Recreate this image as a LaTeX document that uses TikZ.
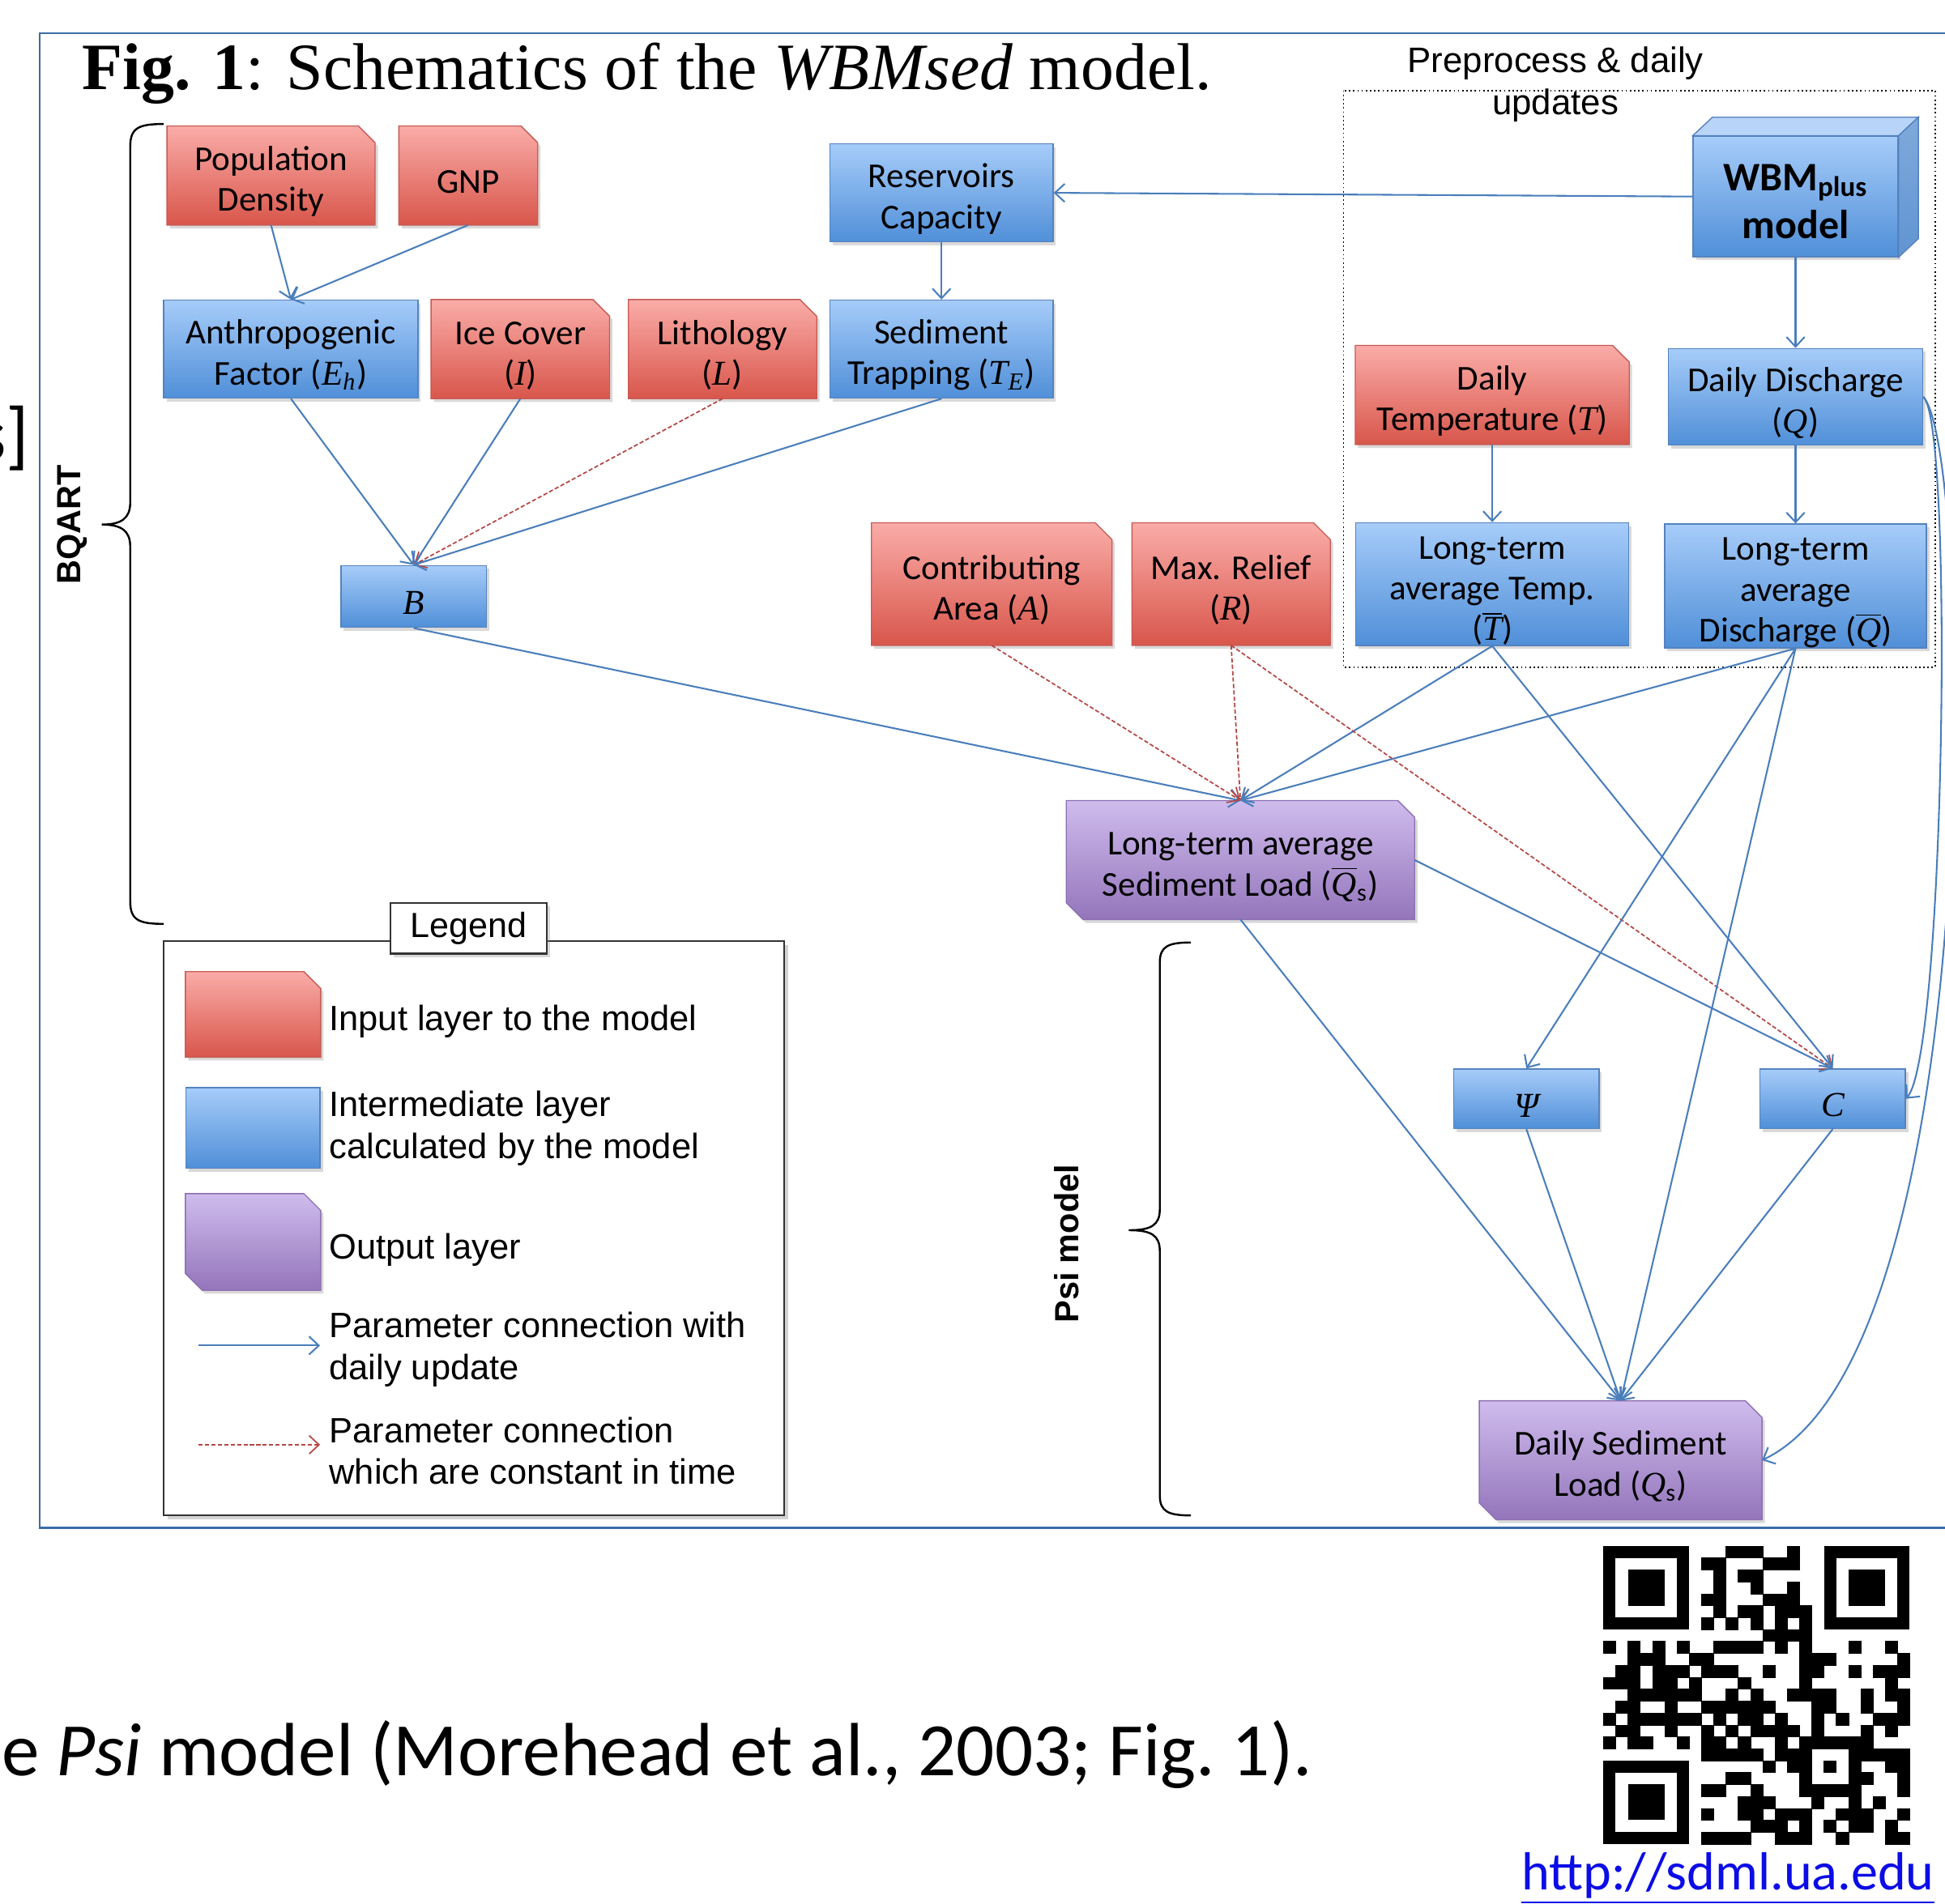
\documentclass[tikz,border=0pt]{standalone}
\usepackage{fontspec}
\setmainfont{Carlito}
\newfontfamily\arialf{Liberation Sans}
\newfontfamily\tnr{Liberation Serif}
\usetikzlibrary{arrows.meta,shadows,backgrounds}

\definecolor{redtop}{RGB}{250,172,168}
\definecolor{redbot}{RGB}{216,86,75}
\definecolor{rededge}{RGB}{200,90,84}
\definecolor{bluetop}{RGB}{166,204,249}
\definecolor{bluebot}{RGB}{80,143,216}
\definecolor{blueedge}{RGB}{84,130,190}
\definecolor{cubetop}{RGB}{184,213,249}
\definecolor{cubeside}{RGB}{96,148,210}
\definecolor{purptop}{RGB}{207,188,237}
\definecolor{purpbot}{RGB}{148,117,187}
\definecolor{purpedge}{RGB}{140,112,176}
\definecolor{linkblue}{RGB}{74,126,187}
\definecolor{linkred}{RGB}{180,70,66}
\definecolor{framecol}{RGB}{60,108,168}
\definecolor{urlblue}{RGB}{12,12,230}

\newcommand{\mv}[1]{{\tnr\itshape #1}}
\newcommand{\mbar}[1]{$\overline{\hbox{\mv{#1}}}$}
\newcommand{\fl}{\rule{0pt}{13pt}}

\tikzset{
  boxtext/.style={align=center, inner sep=0pt, font=\fontsize{12.5}{14.6}\selectfont},
  boxshadow/.style={drop shadow={shadow xshift=1pt, shadow yshift=-1.2pt, opacity=0.3}},
  inbox/.style={boxtext},
  outbox/.style={boxtext},
  calcbox/.style={boxtext, draw=blueedge, line width=0.4pt, top color=bluetop, bottom color=bluebot, boxshadow},
  redfill/.style={draw=rededge, line width=0.4pt, top color=redtop, bottom color=redbot, boxshadow},
  purplefill/.style={draw=purpedge, line width=0.4pt, top color=purptop, bottom color=purpbot, boxshadow},
  dailylink/.style={draw=linkblue, line width=0.6pt, -{Straight Barb[length=3.5pt,width=6.5pt]}},
  fixedlink/.style={draw=linkred, line width=0.5pt, dash pattern=on 1.5pt off 0.8pt, -{Straight Barb[length=3.5pt,width=6.5pt]}},
  bracket/.style={draw=black, line width=0.7pt},
  legendtext/.style={anchor=west, align=left, inner sep=0pt, font=\arialf\fontsize{12.6}{15}\selectfont},
  sidelabel/.style={rotate=90, font=\arialf\bfseries\fontsize{12}{14}\selectfont},
}

\begin{document}
\begin{tikzpicture}[x=0.444pt, y=-0.444pt]
  \path[use as bounding box, clip] (0,0) rectangle (1568,1535);

  % outer frame and title
  \draw[framecol, line width=0.6pt] (1600,27) -- (32,27) -- (32,1232) -- (1600,1232);
  \node[anchor=base west, inner sep=0pt, font=\tnr\fontsize{23.7}{28}\selectfont] (title) at (66,72)
    {\textbf{Fig. 1}: Schematics of the \textit{WBMsed} model.};
  \node[anchor=base east, inner sep=0pt, font=\fontsize{27}{30}\selectfont] (cut) at (24,371) {s]};

  % preprocess group
  \draw[densely dotted, line width=0.5pt] (1083,73) rectangle (1560,538);
  \node[font=\arialf\fontsize{12.7}{15}\selectfont, align=center] (pre) at (1254,68) {Preprocess \& daily\\updates};

  % input layer
  \node[inbox, minimum width=74.1pt, minimum height=35.1pt] (pop) at (218.5,141.5) {\fl Population\\Density};
  \node[inbox, minimum width=49.3pt, minimum height=35.1pt] (gnp) at (377.5,141.5) {\fl GNP};
  \node[inbox, minimum width=63.5pt, minimum height=35.1pt] (ice) at (419.5,281.5) {\fl Ice Cover\\(\mv{I})};
  \node[inbox, minimum width=67pt, minimum height=35.1pt] (lith) at (582.5,281.5) {\fl Lithology\\(\mv{L})};
  \node[inbox, minimum width=97.7pt, minimum height=35.1pt] (dtemp) at (1203,318.5) {\fl Daily\\Temperature (\mv{T})};
  \node[inbox, minimum width=85.7pt, minimum height=43.5pt] (area) at (799.5,471) {\fl Contributing\\Area (\mv{A})};
  \node[inbox, minimum width=70.6pt, minimum height=43.5pt] (relief) at (992.5,471) {\fl Max. Relief\\(\mv{R})};

  % intermediate layer
  \node[calcbox, minimum width=79.9pt, minimum height=35.1pt] (res) at (759,155.5) {\fl Reservoirs\\Capacity};
  \node[calcbox, minimum width=91pt, minimum height=35.1pt] (anth) at (234.5,281.5) {\fl Anthropogenic\\Factor (\mv{E}\textsubscript{\mv{h}})};
  \node[calcbox, minimum width=79.9pt, minimum height=35.1pt] (trap) at (759,281.5) {\fl Sediment\\Trapping (\mv{T}\textsubscript{\mv{E}})};
  \node[calcbox, minimum width=91pt, minimum height=34.6pt] (ddis) at (1447.5,320) {\fl Daily Discharge\\(\mv{Q})};
  \node[calcbox, minimum width=97.7pt, minimum height=43.5pt] (ltemp) at (1203,471) {\fl Long-term\\average Temp.\\(\mbar{T})};
  \node[calcbox, minimum width=93.7pt, minimum height=44pt] (ldis) at (1447.5,472.5) {\fl Long-term\\average\\Discharge (\mbar{Q})};
  \node[calcbox, minimum width=52pt, minimum height=22.2pt] (B) at (333.5,481) {\fl\mv{B}};
  \node[calcbox, minimum width=52pt, minimum height=21.3pt] (psi) at (1230.5,886) {\fl\mv{Ψ}};
  \node[calcbox, minimum width=52pt, minimum height=21.3pt] (C) at (1477.5,886) {\fl\mv{C}};

  % WBMplus block
  \node[calcbox, minimum width=73.3pt, minimum height=43.1pt, font=\bfseries\fontsize{14.5}{17.3}\selectfont] (wbm) at (1447.5,158.5) {\fl WBM\textsubscript{plus}\\model};
  \filldraw[fill=cubetop, draw=blueedge, line width=0.4pt] (wbm.north west) -- ++(16,-15)
    -- ([shift={(16,-15)}]wbm.north east) -- (wbm.north east) -- cycle;
  \filldraw[draw=blueedge, line width=0.4pt, top color=cubeside!80!white, bottom color=cubeside] (wbm.north east) -- ++(16,-15)
    -- ([shift={(16,-15)}]wbm.south east) -- (wbm.south east) -- cycle;

  % output layer
  \node[outbox, minimum width=124.3pt, minimum height=42.2pt] (ltsl) at (1000,693.5) {\fl Long-term average\\Sediment Load (\mbar{Q}\textsubscript{s})};
  \node[outbox, minimum width=100.8pt, minimum height=42.2pt] (dsl) at (1306.5,1177.5) {\fl Daily Sediment\\Load (\mv{Q}\textsubscript{s})};

  % legend
  \node[inbox, minimum width=48pt, minimum height=30.2pt] (legin) at (204,818) {};
  \node[calcbox, minimum width=48pt, minimum height=28.9pt] (legcalc) at (204,909.5) {};
  \node[outbox, minimum width=48pt, minimum height=34.2pt] (legout) at (204,1001.5) {};
  \node[draw=black!80, fill=white, line width=0.6pt, minimum width=56pt, minimum height=18.2pt, inner sep=0pt,
    font=\arialf\fontsize{12.5}{15}\selectfont, boxshadow] (leg) at (378,748.5) {Legend};
  \node[legendtext] (lt1) at (265,824) {Input layer to the model};
  \node[legendtext] (lt2) at (265,910) {Intermediate layer\\calculated by the model};
  \node[legendtext] (lt3) at (265,1008) {Output layer};
  \node[legendtext] (lt4) at (265,1088) {Parameter connection with\\daily update};
  \node[legendtext] (lt5) at (265,1170) {Parameter connection\\which are constant in time};
  \coordinate (da) at (160,1085);
  \coordinate (db) at (258,1085);
  \coordinate (fa) at (160,1165);
  \coordinate (fb) at (258,1165);
  \draw[dailylink] (da) -- (db);
  \draw[fixedlink] (fa) -- (fb);

  % snipped boxes and legend frame
  \begin{scope}[on background layer]
    \filldraw[draw=black!80, fill=white, line width=0.6pt, drop shadow={shadow xshift=1.5pt, shadow yshift=-1.5pt, opacity=0.35}]
      (132,759) rectangle (632,1222);
    \foreach \n in {pop,gnp,ice,lith,dtemp,area,relief,legin}
      \path[redfill] (\n.south west) -- (\n.south east) -- ([yshift=-6pt]\n.north east)
        -- ([xshift=-6pt]\n.north east) -- (\n.north west) -- cycle;
    \foreach \n in {ltsl,dsl,legout}
      \path[purplefill] ([xshift=6pt]\n.south west) -- (\n.south east) -- ([yshift=-6pt]\n.north east)
        -- ([xshift=-6pt]\n.north east) -- (\n.north west) -- ([yshift=6pt]\n.south west) -- cycle;
  \end{scope}

  % braces
  \draw[bracket] (132,100) .. controls (112,100) and (105,103) .. (105,118) -- (105,405)
    .. controls (105,418) and (98,423) .. (82,423) .. controls (98,423) and (105,428) .. (105,441)
    -- (105,727) .. controls (105,742) and (112,745) .. (132,745);
  \node[sidelabel] (bqart) at (58,423) {BQART};
  \draw[bracket] (960,760) .. controls (942,760) and (935,763) .. (935,776) -- (935,975)
    .. controls (935,988) and (928,992) .. (910,992) .. controls (928,992) and (935,996) .. (935,1009)
    -- (935,1206) .. controls (935,1219) and (942,1222) .. (960,1222);
  \node[sidelabel] (psimodel) at (860,1003) {Psi model};

  % connections
  \draw[dailylink] (pop.south) -- (anth.north);
  \draw[dailylink] (gnp.south) -- (anth.north);
  \draw[dailylink] (res.south) -- (trap.north);
  \draw[dailylink] (wbm.west) -- (res.east);
  \draw[dailylink] (wbm.south) -- (ddis.north);
  \draw[dailylink] (dtemp.south) -- (ltemp.north);
  \draw[dailylink] (ddis.south) -- (ldis.north);
  \draw[dailylink] (anth.south) -- (B.north);
  \draw[dailylink] (ice.south) -- (B.north);
  \draw[fixedlink] (lith.south) -- (B.north);
  \draw[dailylink] (trap.south) -- (B.north);
  \draw[dailylink] (B.south) -- (ltsl.north);
  \draw[fixedlink] (area.south) -- (ltsl.north);
  \draw[fixedlink] (relief.south) -- (ltsl.north);
  \draw[dailylink] (ltemp.south) -- (ltsl.north);
  \draw[dailylink] (ldis.south) -- (ltsl.north);
  \draw[fixedlink] (relief.south) -- (C.north);
  \draw[dailylink] (ltemp.south) -- (C.north);
  \draw[dailylink] (ldis.south) -- (psi.north);
  \draw[dailylink] (ldis.south) -- (dsl.north);
  \draw[dailylink] (ltsl.east) -- (C.north);
  \draw[dailylink] (ltsl.south) -- (dsl.north);
  \draw[dailylink] (psi.south) -- (dsl.north);
  \draw[dailylink] (C.south) -- (dsl.north);
  \draw[dailylink] (ddis.east) .. controls (1575,340) and (1568,850) .. (C.east);
  \draw[dailylink] (ddis.east) .. controls (1590,360) and (1605,1090) .. (dsl.east);

  % footer text, QR code and link
  \node[anchor=base west, inner sep=0pt, font=\fontsize{27}{30}\selectfont] (cite) at (1,1432)
    {e \textit{Psi} model (Morehead et al., 2003; Fig.~1).};
  \node[anchor=base, inner sep=0pt, text=urlblue, font=\fontsize{19.2}{22}\selectfont] (url) at (1393,1524)
    {\underline{http://sdml.ua.edu}};
  \begin{scope}[shift={(1292.6,1246.7)}, x=4.385pt, y=-4.267pt]
    \foreach \qx/\qy in {0/0,18/0,0/18} {
      \fill (\qx,\qy) rectangle ++(7,7);
      \fill[white] (\qx+1,\qy+1) rectangle ++(5,5);
      \fill (\qx+2,\qy+2) rectangle ++(3,3);
    }
    \foreach \r/\cl in {0/{10,11,12,15}, 1/{8,9,13,14,15}, 2/{9,11,12}, 3/{9,12,15},
        4/{8,9,13,14,15}, 5/{9,11,12,14,15,16}, 6/{8,10,12,14,16}, 7/{13,14,15,16},
        8/{0,2,4,6,9,10,11,12,14,16,20,23}, 9/{2,3,4,7,8,16,17,18,24},
        10/{1,2,4,5,6,8,9,10,13,16,17,20,22,23,24}, 11/{0,1,2,4,5,7,11,16,23},
        12/{2,3,4,5,6,7,10,12,15,16,17,18,21,23,24}, 13/{1,2,5,8,9,10,11,12,13,17,18,21,24},
        14/{0,2,3,4,5,6,7,9,11,12,14,17,19,22,23,24}, 15/{1,2,5,8,10,12,13,14,15,17,21,23},
        16/{0,2,3,6,8,9,11,14,16,17,18,19,20,21}, 17/{8,9,10,11,12,14,15,16,20,21,22,23,24},
        18/{13,15,16,18,20,23,24}, 19/{10,11,16,20,21,24}, 20/{8,9,12,16,17,18,19,20,24},
        21/{11,12,13,17,20,22}, 22/{8,11,12,14,15,16,19,20,21,24}, 23/{12,13,14,16,18,20,21,23},
        24/{8,9,10,11,14,15,16,19,23,24}} {
      \foreach \c in \cl {
        \filldraw[line width=0.15pt] (\c,\r) rectangle ++(1,1);
      }
    }
  \end{scope}
\end{tikzpicture}
\end{document}
